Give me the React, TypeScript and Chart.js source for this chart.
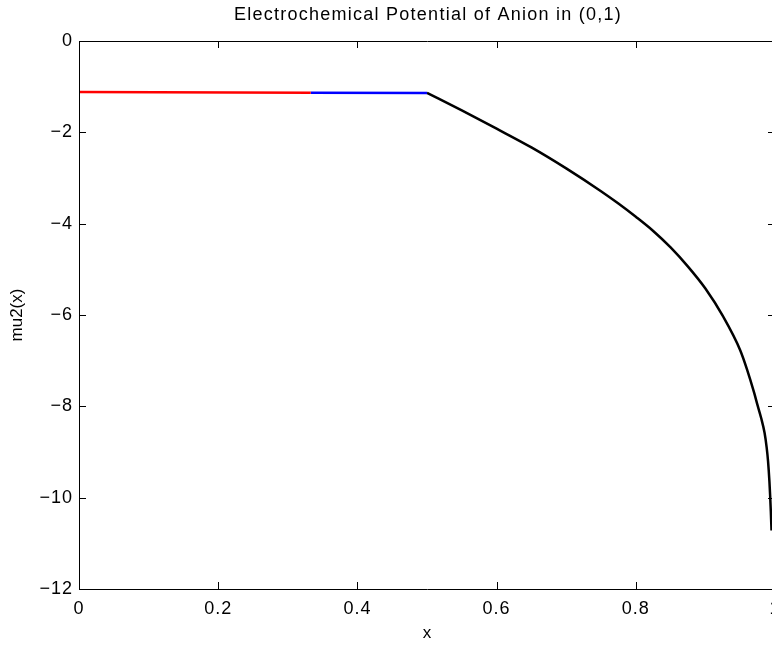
import React, { useEffect, useRef } from "react";
import { Chart, registerables } from "chart.js";

Chart.register(...registerables);

const titleText = "Electrochemical Potential of Anion in (0,1)";
const xTitle = "x";
const yTitle = "mu2(x)";

const redX = [0, 0.333];
const redY = [-1.115, -1.132];

const blueX = [0.333, 0.5];
const blueY = [-1.134, -1.136];

const blackX = [0.5, 0.55, 0.6, 0.65, 0.7, 0.75, 0.775, 0.8, 0.825, 0.85, 0.875, 0.9, 0.925, 0.95, 0.96, 0.97, 0.975, 0.98, 0.985, 0.988, 0.99, 0.992, 0.993, 0.994, 0.995];
const blackY = [-1.136, -1.52, -1.92, -2.33, -2.79, -3.29, -3.56, -3.85, -4.16, -4.52, -4.94, -5.42, -6.02, -6.77, -7.2, -7.7, -7.98, -8.25, -8.58, -8.9, -9.2, -9.65, -9.95, -10.3, -10.72];

const xTicks = [0, 0.2, 0.4, 0.6, 0.8, 1];
const yTicks = [-12, -10, -8, -6, -4, -2, 0];

const FONT = "'Liberation Sans', Arial, Helvetica, sans-serif";

const pts = (xs: number[], ys: number[]) => xs.map((x, i) => ({ x, y: ys[i] }));

const fmt = (v: number) => {
  const s = String(Number(v.toFixed(1)));
  return s.replace("-", "\u2212");
};

const spacingPlugin = {
  id: "tickSpacing",
  beforeDraw(chart: any) {
    (chart.ctx as any).letterSpacing = "1px";
  },
  afterDraw(chart: any) {
    (chart.ctx as any).letterSpacing = "0px";
  },
};

const framePlugin = {
  id: "matlabFrame",
  afterDatasetsDraw(chart: any) {
    const { ctx, chartArea } = chart;
    const { left, right, top, bottom } = chartArea;
    const xs = chart.scales.x;
    const ys = chart.scales.y;
    const tl = 7;
    ctx.save();
    ctx.strokeStyle = "#000";
    ctx.lineWidth = 1;
    ctx.beginPath();
    ctx.rect(Math.round(left) + 0.5, Math.round(top) + 0.5, Math.round(right - left), Math.round(bottom - top));
    xTicks.forEach((v) => {
      const px = Math.round(xs.getPixelForValue(v)) + 0.5;
      ctx.moveTo(px, bottom);
      ctx.lineTo(px, bottom - tl);
      ctx.moveTo(px, top);
      ctx.lineTo(px, top + tl);
    });
    yTicks.forEach((v) => {
      const py = Math.round(ys.getPixelForValue(v)) + 0.5;
      ctx.moveTo(left, py);
      ctx.lineTo(left + tl, py);
      ctx.moveTo(right, py);
      ctx.lineTo(right - tl, py);
    });
    ctx.stroke();
    ctx.restore();
  },
  afterDraw(chart: any) {
    const { ctx, chartArea } = chart;
    const cx = (chartArea.left + chartArea.right) / 2;
    const cy = (chartArea.top + chartArea.bottom) / 2;
    ctx.save();
    ctx.fillStyle = "#000";
    ctx.textAlign = "center";
    ctx.textBaseline = "middle";
    (ctx as any).letterSpacing = "1.25px";
    ctx.font = `18px ${FONT}`;
    ctx.fillText(titleText, cx + 1, 15.5);
    (ctx as any).letterSpacing = "0px";
    ctx.font = `17px ${FONT}`;
    ctx.fillText(xTitle, cx, 633.5);
    ctx.translate(17, cy);
    ctx.rotate(-Math.PI / 2);
    ctx.fillText(yTitle, 0, 0);
    ctx.restore();
  },
};

export default function App() {
  const ref = useRef<HTMLCanvasElement | null>(null);

  useEffect(() => {
    document.body.style.margin = "0";
    const canvas = ref.current;
    if (!canvas) return;
    const chart = new Chart(canvas, {
      type: "scatter",
      data: {
        datasets: [
          { data: pts(redX, redY), borderColor: "#ff0000", showLine: true, pointRadius: 0, borderWidth: 2.5 },
          { data: pts(blueX, blueY), borderColor: "#0000ff", showLine: true, pointRadius: 0, borderWidth: 2.5 },
          {
            data: pts(blackX, blackY),
            borderColor: "#000000",
            showLine: true,
            pointRadius: 0,
            borderWidth: 2.5,
            cubicInterpolationMode: "monotone",
          },
        ],
      },
      options: {
        animation: false,
        responsive: false,
        devicePixelRatio: 1,
        layout: { padding: { top: 41, left: 0, right: 15, bottom: 0 } },
        plugins: {
          legend: { display: false },
          tooltip: { enabled: false },
          title: { display: false },
        },
        scales: {
          x: {
            type: "linear",
            min: 0,
            max: 1,
            afterBuildTicks: (s: any) => {
              s.ticks = xTicks.map((v) => ({ value: v }));
            },
            afterFit: (s: any) => {
              s.height = 56;
            },
            grid: { display: false, drawTicks: false },
            border: { display: false },
            ticks: {
              color: "#000",
              font: { family: FONT, size: 18 },
              padding: 9,
              maxRotation: 0,
              autoSkip: false,
              callback: (v: any) => fmt(Number(v)),
            },
            title: { display: false },
          },
          y: {
            type: "linear",
            min: -12,
            max: 0,
            afterBuildTicks: (s: any) => {
              s.ticks = yTicks.map((v) => ({ value: v }));
            },
            afterFit: (s: any) => {
              s.width = 79;
            },
            grid: { display: false, drawTicks: false },
            border: { display: false },
            ticks: {
              color: "#000",
              font: { family: FONT, size: 18 },
              padding: 6,
              autoSkip: false,
              callback: (v: any) => fmt(Number(v)),
            },
            title: { display: false },
          },
        },
      },
      plugins: [spacingPlugin, framePlugin],
    } as any);
    return () => chart.destroy();
  }, []);

  return (
    <div style={{ width: 772, height: 645, overflow: "hidden", position: "relative", background: "#fff" }}>
      <canvas ref={ref} width={790} height={645} style={{ display: "block", width: 790, height: 645 }} />
    </div>
  );
}
